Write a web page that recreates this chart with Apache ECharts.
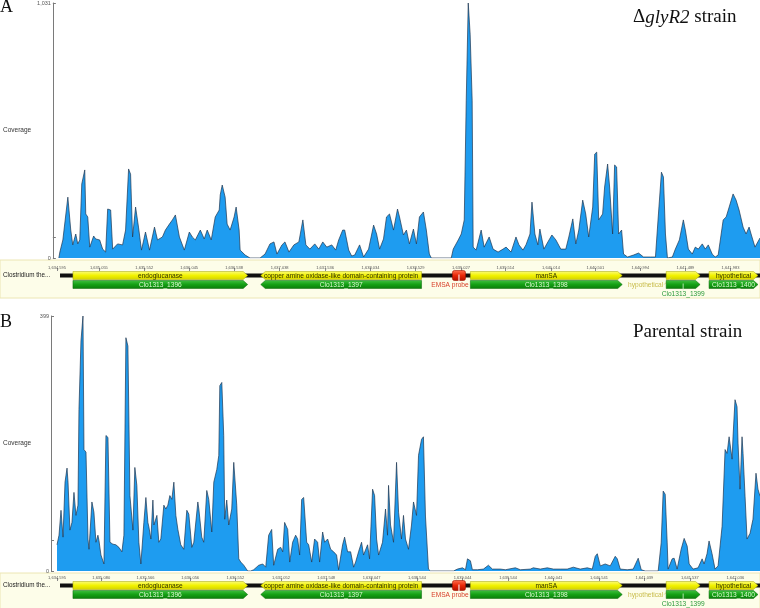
<!DOCTYPE html>
<html>
<head>
<meta charset="utf-8">
<script src="https://cdn.jsdelivr.net/npm/echarts@6/dist/echarts.min.js"></script>
<style>
html, body { margin: 0; padding: 0; background: #fff; }
#chart { width: 760px; height: 608px; }
</style>
</head>
<body>
<div id="chart"></div>
<script>
var regionStart = 1634595;
var regionLength = 7712;

// read coverage: offset (bp from regionStart) / depth
var covPosA = [0,11,44,99,131,153,186,208,230,252, 285,296,318,340,383,405,449,482,515,537,
  570,592,646,701,734,767,789,811,844,876, 909,953,997,1052,1085,1139,1172,1216,1249,1282,
  1326,1380,1435,1468,1501,1556,1599,1632,1676,1720, 1764,1775,1797,1829,1851,1884,1928,1950,1983,1994,
  2049,2103,2213,2268,2322,2366,2399,2454,2487,2531, 2585,2640,2684,2717,2761,2815,2859,2903,2947,3002,
  3045,3078,3122,3144,3188,3221,3254,3308,3352,3407, 3462,3495,3528,3571,3604,3637,3681,3725,3747,3790,
  3823,3856,3900,3933,3966,4010,4042,4075,4097,4316, 4338,4393,4426,4459,4481,4503,4524,4546,4557,4590,
  4645,4678,4733,4776,4831,4886,4919,4974,5028,5061, 5105,5138,5182,5204,5236,5269,5291,5335,5379,5423,
  5467,5521,5576,5609,5653,5686,5719,5762,5795,5828, 5872,5894,5916,5938,5981,6003,6036,6058,6091,6113,
  6135,6157,6190,6211,6255,6321,6376,6431,6507,6562, 6595,6628,6650,6672,6694,6748,6781,6825,6869,6891,
  6924,6967,7000,7033,7077,7110,7143,7186,7219,7252, 7307,7340,7373,7416,7449,7482,7526,7559,7592,7614,
  7657,7712];
var covValA = [0,24,73,246,113,53,97,57,73,299, 356,178,166,44,89,77,73,36,24,198,
  194,36,57,53,113,360,339,85,206,125, 32,105,32,125,73,85,113,137,154,174,
  85,32,105,85,73,113,77,113,73,166, 194,255,295,246,137,113,166,206,113,32,
  12,0,0,16,57,65,16,53,65,24, 53,65,154,53,36,57,36,65,44,53,
  32,73,113,113,32,8,12,53,4,36, 133,97,36,77,166,178,113,198,166,93,
  113,57,117,57,166,186,113,16,0,0, 36,73,97,154,638,1031,905,638,44,32,
  113,44,85,36,24,36,44,24,85,53, 32,53,97,226,97,53,117,36,65,93,
  73,36,36,85,158,57,113,234,178,85, 206,420,428,154,178,287,380,287,97,376,
  368,97,113,16,4,12,20,4,4,4, 178,347,327,97,0,4,36,73,154,113,
  36,16,44,36,57,36,53,16,4,12, 154,166,206,259,234,194,125,97,125,97,
  44,81];

var covPosB = [0,22,44,66,88,110,121,142,164,186, 208,230,241,263,285,296,318,340,351,383,
  405,427,449,460,482,515,537,559,581,613, 646,679,712,734,756,778,800,833,854,876,
  898,920,953,975,997,1008,1030,1052,1063,1096, 1117,1139,1172,1194,1216,1238,1260,1282,1304,1326,
  1358,1391,1424,1446,1479,1501,1545,1556,1588,1610, 1643,1665,1698,1720,1753,1775,1786,1808,1829,1840,
  1862,1884,1917,1939,1950,1972,1994,2016,2049,2092, 2125,2158,2213,2257,2290,2322,2355,2377,2421,2454,
  2476,2497,2531,2553,2585,2618,2640,2662,2684,2706, 2739,2761,2794,2826,2859,2881,2914,2936,2969,3002,
  3035,3067,3089,3133,3155,3188,3221,3254,3276,3308, 3341,3363,3407,3429,3462,3484,3506,3528,3571,3604,
  3626,3637,3659,3692,3725,3747,3779,3801,3823,3856, 3889,3911,3944,3966,3999,4020,4042,4075,4097,4349,
  4393,4448,4481,4503,4535,4557,4612,4678,4733,4776, 4864,4919,5028,5083,5193,5225,5302,5379,5445,5521,
  5598,5664,5740,5817,5872,5905,5927,5960,6014,6069, 6124,6146,6179,6255,6321,6376,6409,6452,6595,6628,
  6650,6672,6694,6704,6748,6770,6803,6847,6880,6913, 6935,6978,7033,7077,7099,7131,7153,7186,7219,7252,
  7296,7329,7351,7373,7406,7416,7438,7460,7471,7493, 7515,7526,7548,7570,7603,7635,7668,7690,7712];
var covValB = [41,56,95,53,139,161,139,64,76,123, 87,103,253,360,399,190,186,50,34,108,
  92,45,56,48,25,11,212,209,45,42, 41,37,30,56,365,352,118,64,162,134,
  45,11,76,115,76,69,50,111,72,87, 45,50,103,97,103,118,112,139,87,65,
  41,34,95,89,37,45,108,97,53,45, 126,112,61,139,159,181,290,295,212,81,
  111,72,97,170,173,103,19,14,9,0, 0,2,9,11,6,56,65,9,34,37,
  30,76,65,14,45,56,50,25,112,115, 45,41,14,50,45,14,61,45,50,34,
  30,25,2,41,53,30,30,6,14,30, 45,25,41,19,128,118,50,25,45,97,
  56,134,72,45,170,92,50,87,50,34, 72,108,87,181,206,210,86,3,0,0,
  3,5,2,19,16,2,2,3,9,3, 3,2,5,2,3,5,3,5,3,3,
  3,6,3,5,3,23,27,8,11,8, 23,19,3,2,3,20,2,0,0,44,
  125,120,44,3,19,20,3,34,51,39, 11,3,5,19,11,27,47,27,3,8,
  70,190,184,210,175,210,268,257,200,128, 210,184,117,50,59,81,153,128,117];

var maxCovA = 1031, maxCovB = 399;
var midTickA = 85, midTickB = 48;

var rulerA = [1634595, 1635055, 1635552, 1636045, 1636538, 1637038, 1637536, 1638034,
  1638529, 1639027, 1639514, 1640014, 1640501, 1640994, 1641489, 1641983];
var rulerB = [1634595, 1635080, 1635566, 1636056, 1636552, 1637052, 1637548, 1638047,
  1638544, 1639044, 1639544, 1640041, 1640541, 1641039, 1641537, 1642036];

var trackName = 'Clostridium the...';
var geneNames = ['endoglucanase', 'copper amine oxidase-like domain-containing protein', 'manSA', 'hypothetical', 'hypothetical'];
var cdsNames = ['Clo1313_1396', 'Clo1313_1397', 'Clo1313_1398', 'Clo1313_1399', 'Clo1313_1400'];
var geneStart = [175, 2235, 4535, 6683, 7153];
var geneEnd = [2092, 3999, 6201, 7055, 7690];
var geneStrand = [1, -1, 1, 1, 1];
var probeName = 'EMSA probe';
var probeStart = 4338, probeEnd = 4481;
var seqStart = 33, seqEnd = 7712;

var fmt = function (v) { return Number(v).toLocaleString('en-US'); };
var smallFont = '"Liberation Sans", Arial, sans-serif';

// track items shared by both panels
var trackItems = [{ kind: 'seq', start: seqStart, end: seqEnd, row: 0 }];
geneNames.forEach(function (n, i) {
  trackItems.push({ kind: 'gene', start: geneStart[i], end: geneEnd[i], row: 0, strand: geneStrand[i], label: n });
});
trackItems.push({ kind: 'probe', start: probeStart, end: probeEnd, row: 0, label: probeName });
cdsNames.forEach(function (n, i) {
  trackItems.push({ kind: 'cds', start: geneStart[i], end: geneEnd[i], row: 1, strand: geneStrand[i], label: n });
});

var G = echarts.graphic;
var yellowFill = new G.LinearGradient(0, 0, 0, 1, [
  { offset: 0, color: '#fcfc78' }, { offset: 0.5, color: '#f2f200' }, { offset: 1, color: '#d2d200' }]);
var greenFill = new G.LinearGradient(0, 0, 0, 1, [
  { offset: 0, color: '#40c040' }, { offset: 0.5, color: '#15a015' }, { offset: 1, color: '#0a7c0a' }]);
var redFill = new G.LinearGradient(0, 0, 0, 1, [
  { offset: 0, color: '#ff7050' }, { offset: 0.5, color: '#e82808' }, { offset: 1, color: '#b01000' }]);

function renderTrack(params, api) {
  var it = trackItems[params.dataIndex];
  var a = api.coord([api.value(0), api.value(2)]);
  var b = api.coord([api.value(1), api.value(2)]);
  var x0 = a[0], x1 = b[0], y = a[1];
  var y1 = api.coord([api.value(0), 1])[1];
  var y2 = api.coord([api.value(0), 2])[1];
  var font = '6.6px ' + smallFont;
  if (it.kind === 'seq') {
    return { type: 'rect', shape: { x: x0, y: y - 2, width: x1 - x0, height: 4 }, style: { fill: '#111' } };
  }
  if (it.kind === 'probe') {
    var pc = (x0 + x1) / 2;
    return { type: 'group', children: [
      { type: 'rect', shape: { x: x0, y: y - 5, width: x1 - x0, height: 10, r: 2 },
        style: { fill: redFill, stroke: '#a01000', lineWidth: 0.6 } },
      { type: 'line', shape: { x1: pc, y1: y - 1, x2: pc, y2: y1 - 3 }, style: { stroke: '#ffffff', lineWidth: 1 } },
      { type: 'text', style: { text: it.label, x: pc - 9, y: y1 + 1, align: 'center', verticalAlign: 'middle', font: font, fill: '#d8402a' } }
    ] };
  }
  var h = 8, w = x1 - x0, tip = Math.min(4.5, w / 2);
  var pts = it.strand > 0
    ? [[x0, y - h / 2], [x1 - tip, y - h / 2], [x1, y], [x1 - tip, y + h / 2], [x0, y + h / 2]]
    : [[x0 + tip, y - h / 2], [x1, y - h / 2], [x1, y + h / 2], [x0 + tip, y + h / 2], [x0, y]];
  var isGene = it.kind === 'gene';
  var children = [{ type: 'polygon', shape: { points: pts },
    style: { fill: isGene ? yellowFill : greenFill, stroke: isGene ? '#a4a400' : '#086808', lineWidth: 0.5 } }];
  var cx = (x0 + x1) / 2;
  if (w >= 42) {
    children.push({ type: 'text', style: { text: it.label, x: cx, y: y + 0.5, align: 'center', verticalAlign: 'middle',
      font: font, fill: isGene ? '#2e2e00' : '#dcf8d0' } });
  } else if (isGene) {
    children.push({ type: 'line', shape: { x1: x0 - 2, y1: y1, x2: x0 + 5, y2: y + 2 }, style: { stroke: '#d8d070', lineWidth: 0.8 } });
    children.push({ type: 'text', style: { text: it.label, x: x0 - 3, y: y1 + 1, align: 'right', verticalAlign: 'middle',
      font: font, fill: '#c8bc4a' } });
  } else {
    children.push({ type: 'line', shape: { x1: cx, y1: y - 1, x2: cx, y2: y2 - 3 }, style: { stroke: '#d8f8d0', lineWidth: 0.8 } });
    children.push({ type: 'text', style: { text: it.label, x: cx, y: y2 + 1, align: 'center', verticalAlign: 'middle',
      font: font, fill: '#2a9a3a' } });
  }
  return { type: 'group', children: children };
}

function trackData() {
  return trackItems.map(function (it) { return [regionStart + it.start, regionStart + it.end, it.row]; });
}

function covData(pos, val) {
  return pos.map(function (p, i) { return [regionStart + p, val[i]]; });
}

function covYAxis(grid, maxV, midV) {
  return {
    gridIndex: grid, type: 'value', min: 0, max: maxV, offset: 6,
    axisLine: { show: true, lineStyle: { color: '#7a7a7a', width: 1 } },
    axisTick: { show: true, inside: true, length: 3, customValues: [0, midV, maxV], lineStyle: { color: '#7a7a7a' } },
    axisLabel: { customValues: [0, maxV], fontSize: 5.5, fontFamily: smallFont, color: '#555', margin: 2, formatter: fmt },
    splitLine: { show: false },
    name: 'Coverage', nameLocation: 'middle', nameRotate: 0, nameGap: 48,
    nameTextStyle: { align: 'left', fontSize: 6.5, fontFamily: smallFont, color: '#333' }
  };
}

function rulerAxis(grid, ticks) {
  return {
    gridIndex: grid, type: 'value', position: 'top', min: regionStart, max: regionStart + regionLength,
    axisLine: { show: false },
    axisTick: { show: true, length: 3, customValues: ticks, lineStyle: { color: '#888' } },
    axisLabel: { customValues: ticks, fontSize: 4, fontFamily: smallFont, color: '#555', margin: 1, formatter: fmt },
    splitLine: { show: false }
  };
}

function trackYAxis(grid) {
  return {
    gridIndex: grid, type: 'category', data: ['gene', 'cds', 'note'], inverse: true,
    axisLine: { show: false }, axisTick: { show: false }, splitLine: { show: false },
    axisLabel: { align: 'left', margin: 54, fontSize: 6.3, fontFamily: smallFont, color: '#222',
      formatter: function (v, i) { return i === 0 ? trackName : ''; } }
  };
}

var hiddenX = function (grid) {
  return { gridIndex: grid, type: 'value', min: regionStart, max: regionStart + regionLength, show: false };
};

function covSeries(idx, pos, val) {
  return {
    type: 'line', xAxisIndex: idx, yAxisIndex: idx, data: covData(pos, val),
    symbol: 'none', smooth: false, sampling: null, z: 3,
    lineStyle: { color: '#1f3650', width: 0.7 },
    areaStyle: { color: '#1e9cf0', opacity: 1 }
  };
}

function trackSeries(idx) {
  return { type: 'custom', xAxisIndex: idx, yAxisIndex: idx, data: trackData(),
    encode: { x: [0, 1], y: 2 }, renderItem: renderTrack, z: 3 };
}

var serif = '"Liberation Serif", "Times New Roman", serif';
var myChart = echarts.init(document.getElementById('chart'));
var option = {
  animation: false,
  backgroundColor: '#ffffff',
  grid: [
    { left: 56, right: 0, top: 3, height: 255 },
    { left: 56, right: 0, top: 271, height: 27 },
    { left: 56, right: 0, top: 316, height: 255 },
    { left: 56, right: 0, top: 581, height: 27 }
  ],
  xAxis: [hiddenX(0), rulerAxis(1, rulerA), hiddenX(2), rulerAxis(3, rulerB)],
  yAxis: [covYAxis(0, maxCovA, midTickA), trackYAxis(1), covYAxis(2, maxCovB, midTickB), trackYAxis(3)],
  graphic: [
    { type: 'rect', z: 0, shape: { x: 0, y: 260, width: 760, height: 38 }, style: { fill: '#fdfde9', stroke: '#ece6b4', lineWidth: 1 } },
    { type: 'rect', z: 0, shape: { x: 0, y: 573, width: 760, height: 40 }, style: { fill: '#fdfde9', stroke: '#ece6b4', lineWidth: 1 } },
    { type: 'text', z: 10, left: 0, top: -2, style: { text: 'A', font: '18px ' + serif, fill: '#111' } },
    { type: 'text', z: 10, left: 0, top: 313, style: { text: 'B', font: '18px ' + serif, fill: '#111' } },
    { type: 'text', z: 10, left: 633, top: 8, style: {
      text: '{n|Δ}{i|glyR2}{n| strain}',
      rich: {
        n: { fontSize: 19, fontFamily: serif, fill: '#111' },
        i: { fontSize: 19, fontFamily: serif, fontStyle: 'italic', fill: '#111' }
      } } },
    { type: 'text', z: 10, left: 633, top: 323, style: { text: 'Parental strain', font: '19px ' + serif, fill: '#111' } }
  ],
  series: [covSeries(0, covPosA, covValA), trackSeries(1), covSeries(2, covPosB, covValB), trackSeries(3)]
};
option && myChart.setOption(option);
</script>
</body>
</html>
